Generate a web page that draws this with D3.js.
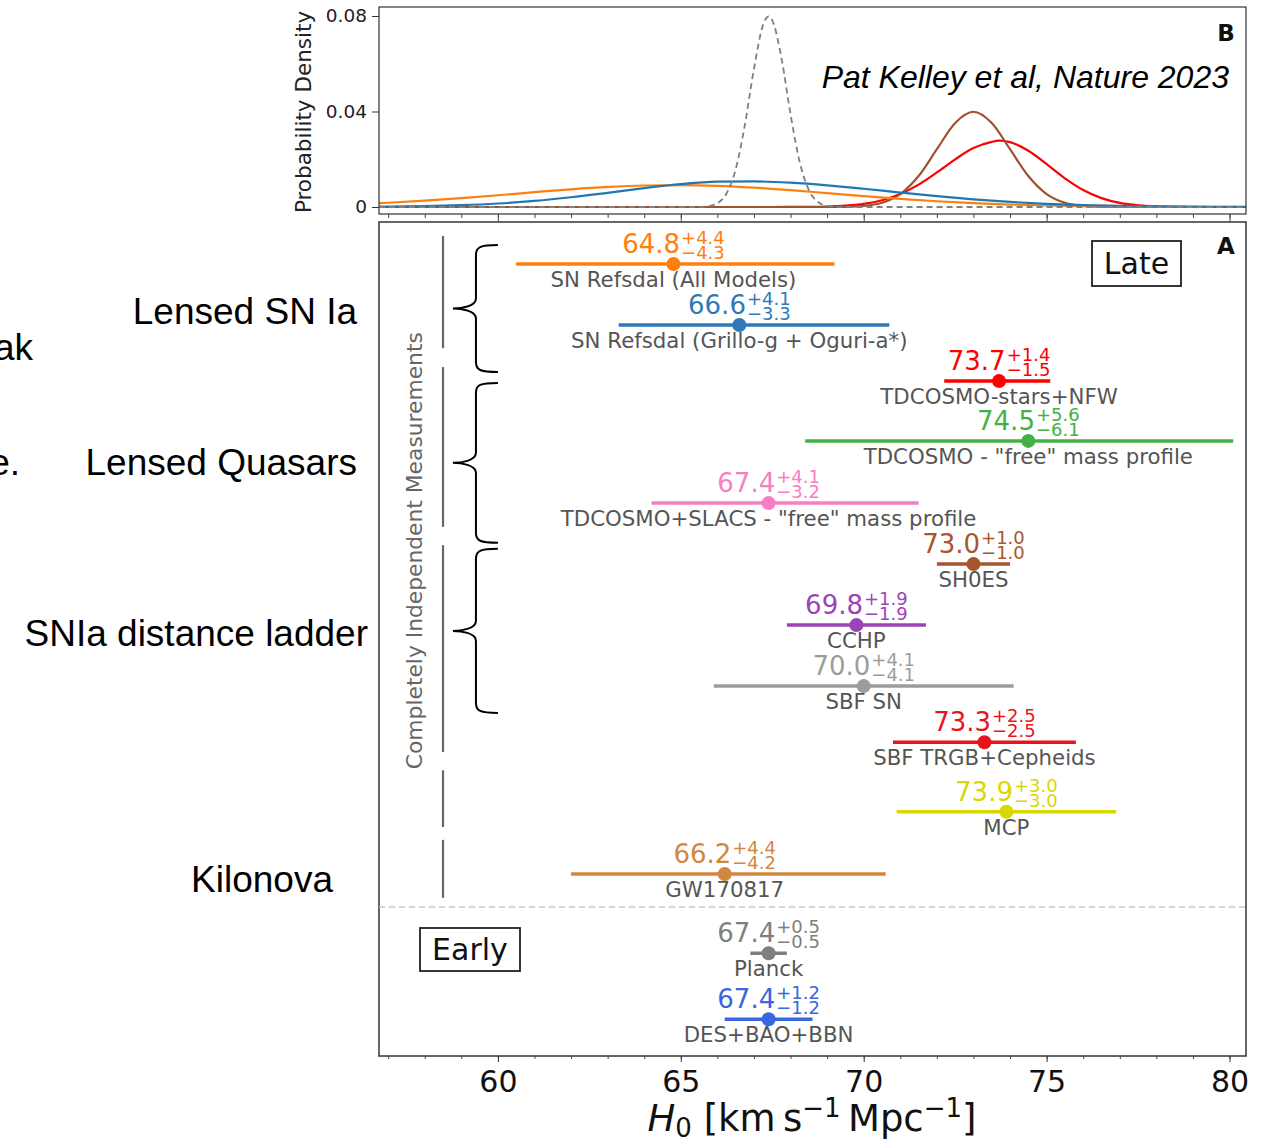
<!DOCTYPE html>
<html>
<head>
<meta charset="utf-8">
<script src="https://cdn.jsdelivr.net/npm/d3@7"></script>
<style>
  body { margin: 0; background: #fff; }
  svg { display: block; }
  .mpl { font-family: "DejaVu Sans", sans-serif; }
  .slide { font-family: "Liberation Sans", Arial, sans-serif; }
</style>
</head>
<body>
<div id="chart"></div>
<script>
// ---- data ----
var labels = ["SN Refsdal (All Models)", "SN Refsdal (Grillo-g + Oguri-a*)", "TDCOSMO-stars+NFW",
    'TDCOSMO - "free" mass profile', 'TDCOSMO+SLACS - "free" mass profile', "SH0ES", "CCHP",
    "SBF SN", "SBF TRGB+Cepheids", "MCP", "GW170817", "Planck", "DES+BAO+BBN"];
var h0 = [64.8, 66.6, 73.7, 74.5, 67.4, 73.0, 69.8, 70.0, 73.3, 73.9, 66.2, 67.4, 67.4];
var errPlus = [4.4, 4.1, 1.4, 5.6, 4.1, 1.0, 1.9, 4.1, 2.5, 3.0, 4.4, 0.5, 1.2];
var errMinus = [4.3, 3.3, 1.5, 6.1, 3.2, 1.0, 1.9, 4.1, 2.5, 3.0, 4.2, 0.5, 1.2];
var rowPos = [0, 1, 1.92, 2.9, 3.92, 4.92, 5.92, 6.92, 7.84, 8.98, 10, 11.3, 12.38];
var colors = ["#ff7f0e", "#2f79bb", "#ff0000", "#44b044", "#f87ec3", "#a8552b", "#9b44b6",
    "#9c9c9c", "#e8141c", "#d8d800", "#d2873f", "#7f7f7f", "#3a66e0"];

// probability densities (panel B), [H0, density]
var pdfRefsdalAll = [[56.75,0.00159],[57,0.00177],[58,0.00263],[59,0.00369],[60,0.00492],[61,0.00621],
    [62,0.00742],[63,0.0084],[64,0.00901],[65,0.00916],[66,0.00884],[67,0.00809],[68,0.00704],
    [69,0.00581],[70,0.00456],[71,0.0034],[72,0.0024],[73,0.00161],[74,0.00103],[75,0.00062],
    [76,0.00036],[77,0.0002],[78,0.0001],[79,0.00005],[80,0.00002],[80.45,0.00001]];
var pdfRefsdalGO = [[56.75,0.000125],[57,0.000157],[58,0.00036],[59,0.00076],[60,0.00146],[61,0.00255],
    [62,0.00408],[63,0.00595],[64,0.0079],[65,0.00958],[66,0.0106],[67,0.01073],[68,0.01017],
    [69,0.00908],[70,0.00764],[71,0.00606],[72,0.00453],[73,0.00319],[74,0.00212],[75,0.00132],
    [76,0.00078],[77,0.00043],[78,0.00023],[79,0.00011],[80,0.00005],[80.45,0.00003]];
var pdfNFW = [[56.75,0],[67.5,0],[68,0.00002],[68.5,0.00007],[69,0.0002],[69.5,0.00055],[70,0.00131],
    [70.5,0.00283],[71,0.00544],[71.5,0.00938],[72,0.01447],[72.5,0.01997],[73,0.02467],[73.5,0.02726],
    [73.7,0.0278],[74,0.02718],[74.5,0.02356],[75,0.01797],[75.5,0.01203],[76,0.00713],[76.5,0.00372],
    [77,0.00171],[77.5,0.00069],[78,0.00025],[78.5,0.00008],[79,0.00002],[79.5,0],[80.45,0]];
var pdfShoes = [[56.75,0],[68.5,0],[69,0.00001],[69.5,0.00009],[70,0.00044],[70.5,0.00175],[71,0.0054],
    [71.5,0.01296],[72,0.0242],[72.5,0.0352],[73,0.0399],[73.5,0.0352],[74,0.0242],[74.5,0.01296],
    [75,0.0054],[75.5,0.00175],[76,0.00044],[76.5,0.00009],[77,0.00001],[77.5,0],[80.45,0]];
var pdfPlanck = [[56.75,0],[65.25,0],[65.5,0.00006],[65.75,0.00034],[66,0.00158],[66.25,0.00567],
    [66.5,0.0158],[66.75,0.0343],[67,0.0579],[67.25,0.0763],[67.4,0.0798],[67.5,0.0782],
    [67.75,0.0625],[68,0.0388],[68.25,0.0188],[68.5,0.00709],[68.75,0.00209],[69,0.00048],
    [69.25,0.00009],[69.5,0.00001],[69.75,0],[80.45,0]];
var pdfCurves = [
  {data: pdfNFW, color: "#ff0000", dash: null},
  {data: pdfShoes, color: "#a0522d", dash: null},
  {data: pdfRefsdalAll, color: "#ff7f0e", dash: null},
  {data: pdfRefsdalGO, color: "#1f77b4", dash: null},
  {data: pdfPlanck, color: "#808080", dash: "6,4"}
];

var majorTicks = [60, 65, 70, 75, 80];
var minorTicks = d3.range(57, 81);
var densityTicks = [0, 0.04, 0.08];
var densityTickLabels = ["0", "0.04", "0.08"];

// grouping marks in row units
var groupSpans = [[-0.46, 1.38], [1.69, 4.31], [4.61, 8.0], [8.3, 9.23], [9.44, 10.39]];
var braceSpans = [[-0.31, 1.77], [1.95, 4.57], [4.67, 7.36]];
var categoryLabels = ["Lensed SN Ia", "Lensed Quasars", "SNIa distance ladder", "Kilonova"];
var separatorRow = 10.54;

// ---- layout ----
var W = 1273, H = 1142;
var left = 379, right = 1246;
var topB = 7, botB = 214, topA = 222, botA = 1056;

var svg = d3.select("#chart").append("svg")
    .attr("width", W).attr("height", H);

var x = d3.scaleLinear().domain([56.75, 80.45]).range([left, right]);
var yDen = d3.scaleLinear().domain([0, 0.08]).range([207, 16]);
var yRow = d3.scaleLinear().domain([0, 10]).range([264, 874]);

// ===== panel B =====
svg.append("clipPath").attr("id", "clipB")
  .append("rect").attr("x", left).attr("y", topB).attr("width", right - left).attr("height", botB - topB);

var line = d3.line()
    .x(function(d) { return x(d[0]); })
    .y(function(d) { return yDen(d[1]); })
    .curve(d3.curveMonotoneX);

svg.append("g").attr("clip-path", "url(#clipB)")
  .selectAll("path")
  .data(pdfCurves)
  .enter()
  .append("path")
    .attr("d", function(d) { return line(d.data); })
    .attr("fill", "none")
    .attr("stroke", function(d) { return d.color; })
    .attr("stroke-width", function(d) { return d.dash ? 1.8 : 2.2; })
    .attr("stroke-dasharray", function(d) { return d.dash; });

svg.append("rect")
    .attr("x", left).attr("y", topB).attr("width", right - left).attr("height", botB - topB)
    .attr("fill", "none").attr("stroke", "#333").attr("stroke-width", 1.2);

var yAxB = svg.append("g").attr("class", "mpl")
    .attr("transform", "translate(" + left + ",0)")
    .call(d3.axisLeft(yDen).tickValues(densityTicks).tickSize(7).tickPadding(5)
        .tickFormat(function(d, i) { return densityTickLabels[i]; }));
yAxB.select(".domain").remove();
yAxB.selectAll("text").attr("font-size", 18.5).attr("fill", "#222").attr("font-family", "DejaVu Sans");
yAxB.selectAll("line").attr("stroke", "#333");

var xAxBmin = svg.append("g").attr("transform", "translate(0," + botB + ")")
    .call(d3.axisBottom(x).tickValues(minorTicks).tickSize(4).tickFormat(""));
xAxBmin.select(".domain").remove();
xAxBmin.selectAll("line").attr("stroke", "#444");
var xAxBmaj = svg.append("g").attr("transform", "translate(0," + botB + ")")
    .call(d3.axisBottom(x).tickValues(majorTicks).tickSize(7).tickFormat(""));
xAxBmaj.select(".domain").remove();
xAxBmaj.selectAll("line").attr("stroke", "#444");

svg.append("text").attr("class", "mpl")
    .attr("transform", "translate(311,112) rotate(-90)")
    .attr("text-anchor", "middle")
    .attr("font-size", 21.5).attr("fill", "#222")
    .text("Probability Density");

svg.append("text").attr("class", "mpl")
    .attr("x", 1226).attr("y", 41).attr("text-anchor", "middle")
    .attr("font-size", 23).attr("font-weight", "bold").attr("fill", "#111")
    .text("B");

svg.append("text").attr("class", "slide")
    .attr("x", 1229).attr("y", 88).attr("text-anchor", "end")
    .attr("font-size", 32).attr("font-style", "italic").attr("fill", "#000")
    .text("Pat Kelley et al, Nature 2023");

// ===== panel A =====
svg.append("rect")
    .attr("x", left).attr("y", topA).attr("width", right - left).attr("height", botA - topA)
    .attr("fill", "none").attr("stroke", "#333").attr("stroke-width", 1.5);

// separator late / early
svg.append("line")
    .attr("x1", left).attr("x2", right)
    .attr("y1", yRow(separatorRow)).attr("y2", yRow(separatorRow))
    .attr("stroke", "#c8c8c8").attr("stroke-width", 1.5).attr("stroke-dasharray", "6,4");

// group lines
svg.selectAll(".grp")
  .data(groupSpans)
  .enter()
  .append("line")
    .attr("class", "grp")
    .attr("x1", x(58.5)).attr("x2", x(58.5))
    .attr("y1", function(d) { return yRow(d[0]); })
    .attr("y2", function(d) { return yRow(d[1]); })
    .attr("stroke", "#666").attr("stroke-width", 2.2);

svg.append("text").attr("class", "mpl")
    .attr("transform", "translate(" + (x(58.5) - 21) + "," + yRow(4.7) + ") rotate(-90)")
    .attr("text-anchor", "middle")
    .attr("font-size", 21.8).attr("fill", "#666")
    .text("Completely Independent Measurements");

// braces
function bracePath(d) {
  var y0 = yRow(d[0]), y1 = yRow(d[1]), ym = (y0 + y1) / 2;
  var xe = x(60.0), xv = x(59.4), xt = x(58.77), r = 10;
  return "M" + xe + "," + y0 +
    "C" + (xv + 4) + "," + y0 + " " + xv + "," + (y0 + 2) + " " + xv + "," + (y0 + r) +
    "L" + xv + "," + (ym - r) +
    "C" + xv + "," + (ym - 2) + " " + (xt + 8) + "," + ym + " " + xt + "," + ym +
    "C" + (xt + 8) + "," + ym + " " + xv + "," + (ym + 2) + " " + xv + "," + (ym + r) +
    "L" + xv + "," + (y1 - r) +
    "C" + xv + "," + (y1 - 2) + " " + (xv + 4) + "," + y1 + " " + xe + "," + y1;
}
svg.selectAll(".brace")
  .data(braceSpans)
  .enter()
  .append("path")
    .attr("class", "brace")
    .attr("d", bracePath)
    .attr("fill", "none").attr("stroke", "#000").attr("stroke-width", 2);

// error bars
var rows = h0.map(function(v, i) {
  return {label: labels[i], v: v, ep: errPlus[i], em: errMinus[i], r: rowPos[i], c: colors[i]};
});

var rowG = svg.selectAll(".row")
  .data(rows)
  .enter()
  .append("g")
    .attr("class", "row mpl")
    .attr("transform", function(d) { return "translate(0," + yRow(d.r) + ")"; });

rowG.append("line")
    .attr("x1", function(d) { return x(d.v - d.em); })
    .attr("x2", function(d) { return x(d.v + d.ep); })
    .attr("stroke", function(d) { return d.c; })
    .attr("stroke-width", 3.5);

rowG.append("circle")
    .attr("cx", function(d) { return x(d.v); })
    .attr("r", 7)
    .attr("fill", function(d) { return d.c; });

rowG.append("text")
    .attr("x", function(d) { return x(d.v); })
    .attr("y", 23)
    .attr("text-anchor", "middle")
    .attr("font-size", 21.3).attr("fill", "#555")
    .text(function(d) { return d.label; });

rowG.each(function(d) {
  var g = d3.select(this).append("g");
  var main = g.append("text").attr("y", -11).attr("font-size", 26).attr("fill", d.c)
      .text(d.v.toFixed(1));
  var w1 = main.node().getComputedTextLength();
  var sup = g.append("text").attr("x", w1 + 1).attr("y", -20).attr("font-size", 18).attr("fill", d.c)
      .text("+" + d.ep.toFixed(1));
  var sub = g.append("text").attr("x", w1 + 1).attr("y", -5).attr("font-size", 18).attr("fill", d.c)
      .text("\u2212" + d.em.toFixed(1));
  var w2 = Math.max(sup.node().getComputedTextLength(), sub.node().getComputedTextLength());
  g.attr("transform", "translate(" + (x(d.v) - (w1 + 1 + w2) / 2) + ",0)");
});

// Late / Early boxes
function tagBox(txt, cx, cy, w, h) {
  svg.append("rect").attr("x", cx - w / 2).attr("y", cy - h / 2).attr("width", w).attr("height", h)
      .attr("fill", "#fff").attr("stroke", "#222").attr("stroke-width", 1.8);
  svg.append("text").attr("class", "mpl").attr("x", cx).attr("y", cy + 10.5)
      .attr("text-anchor", "middle").attr("font-size", 30).attr("fill", "#111").text(txt);
}
tagBox("Late", 1136.5, 263.5, 89, 45);
tagBox("Early", 470, 949.5, 100, 43);

svg.append("text").attr("class", "mpl")
    .attr("x", 1226).attr("y", 254).attr("text-anchor", "middle")
    .attr("font-size", 23).attr("font-weight", "bold").attr("fill", "#111")
    .text("A");

// bottom axis
var xAxMin = svg.append("g").attr("transform", "translate(0," + botA + ")")
    .call(d3.axisBottom(x).tickValues(minorTicks).tickSize(3).tickFormat(""));
xAxMin.select(".domain").remove();
xAxMin.selectAll("line").attr("stroke", "#444");
var xAxMaj = svg.append("g").attr("class", "mpl").attr("transform", "translate(0," + botA + ")")
    .call(d3.axisBottom(x).tickValues(majorTicks).tickSize(6).tickPadding(9));
xAxMaj.select(".domain").remove();
xAxMaj.selectAll("line").attr("stroke", "#333");
xAxMaj.selectAll("text").attr("font-size", 30).attr("fill", "#111").attr("font-family", "DejaVu Sans");

var xl = svg.append("text").attr("class", "mpl")
    .attr("x", 812).attr("y", 1131).attr("text-anchor", "middle")
    .attr("font-size", 37).attr("fill", "#111");
xl.append("tspan").attr("font-style", "italic").text("H");
xl.append("tspan").attr("font-size", 26).attr("dy", 6).text("0");
xl.append("tspan").attr("dy", -6).text(" [km\u2009s");
xl.append("tspan").attr("font-size", 26).attr("dy", -14).text("\u22121");
xl.append("tspan").attr("dy", 14).text("\u2009Mpc");
xl.append("tspan").attr("font-size", 26).attr("dy", -14).text("\u22121");
xl.append("tspan").attr("dy", 14).text("]");

// slide annotations on the left
var catAnchorX = [357, 357, 368, 333];
var catBaseline = [324, 475, 646, 892];
svg.selectAll(".cat")
  .data(categoryLabels)
  .enter()
  .append("text")
    .attr("class", "cat slide")
    .attr("x", function(d, i) { return catAnchorX[i]; })
    .attr("y", function(d, i) { return catBaseline[i]; })
    .attr("text-anchor", "end")
    .attr("font-size", 37).attr("fill", "#000")
    .text(function(d) { return d; });

svg.append("text").attr("class", "slide").attr("x", 33).attr("y", 360)
    .attr("text-anchor", "end").attr("font-size", 37).attr("fill", "#000").text("ak");
svg.append("text").attr("class", "slide").attr("x", 20).attr("y", 475)
    .attr("text-anchor", "end").attr("font-size", 37).attr("fill", "#000").text("e.");
</script>
</body>
</html>
